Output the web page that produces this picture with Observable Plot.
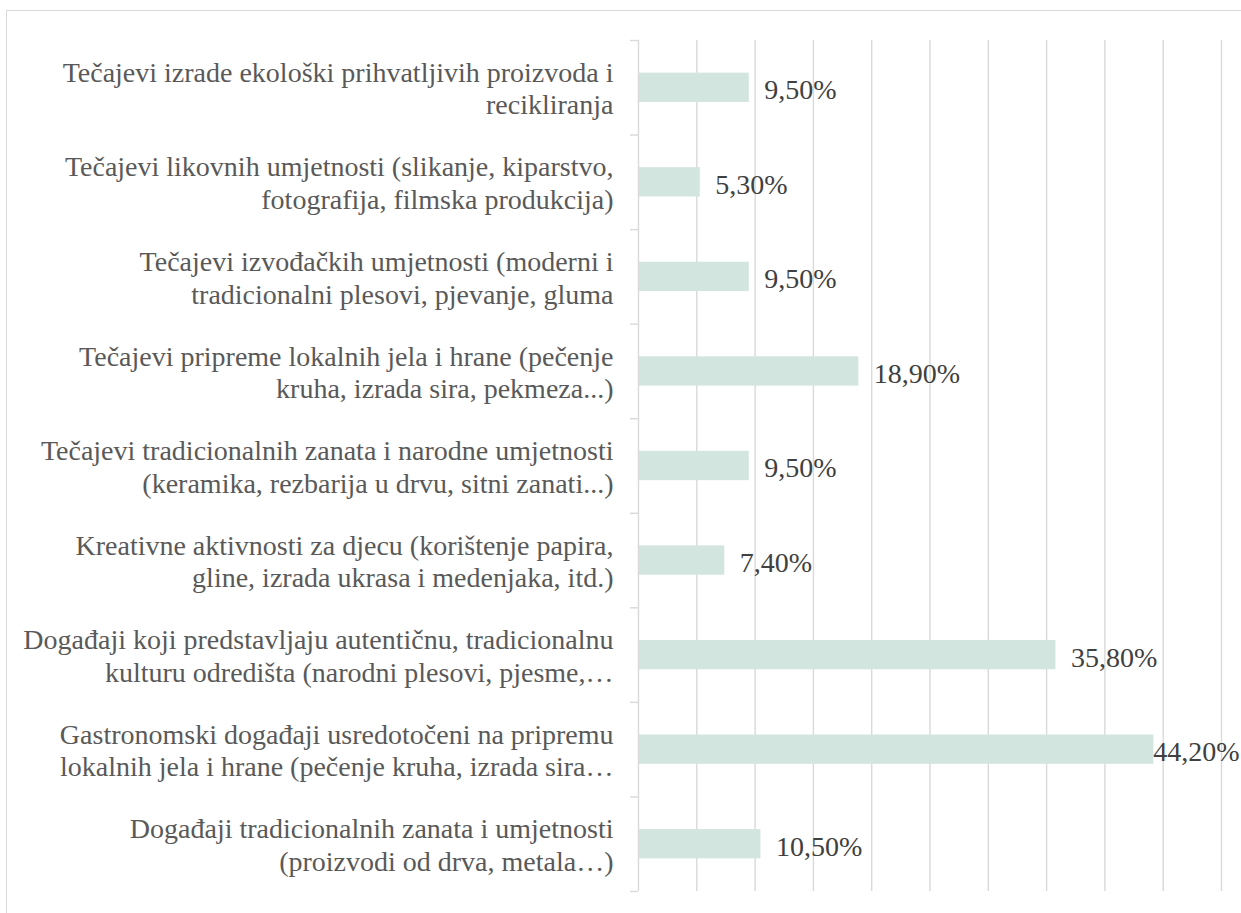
<!DOCTYPE html>
<html><head><meta charset="utf-8">
<script src="https://cdn.jsdelivr.net/npm/d3@7"></script>
<script src="https://cdn.jsdelivr.net/npm/@observablehq/plot@0.6"></script>
<style>
html,body{margin:0;padding:0;background:#fff;overflow:hidden;}
#wrap{position:relative;width:1241px;height:913px;overflow:hidden;}
#border{position:absolute;left:6px;top:10px;width:1300px;height:1000px;border:1.5px solid #d9d9d9;box-sizing:border-box;}
#chart{position:absolute;left:0;top:0;}
#chart svg, #chart svg text, #chart svg tspan {font-family: "Liberation Serif", "Times New Roman", Tinos, serif !important;}
</style></head><body>
<div id="wrap"><div id="border"></div><div id="chart"></div></div>
<script>
const categories = [
  "Tečajevi izrade ekološki prihvatljivih proizvoda i\nrecikliranja",
  "Tečajevi likovnih umjetnosti (slikanje, kiparstvo,\nfotografija, filmska produkcija)",
  "Tečajevi izvođačkih umjetnosti (moderni i\ntradicionalni plesovi, pjevanje, gluma",
  "Tečajevi pripreme lokalnih jela i hrane (pečenje\nkruha, izrada sira, pekmeza...)",
  "Tečajevi tradicionalnih zanata i narodne umjetnosti\n(keramika, rezbarija u drvu, sitni zanati...)",
  "Kreativne aktivnosti za djecu (korištenje papira,\ngline, izrada ukrasa i medenjaka, itd.)",
  "Događaji koji predstavljaju autentičnu, tradicionalnu\nkulturu odredišta (narodni plesovi, pjesme,…",
  "Gastronomski događaji usredotočeni na pripremu\nlokalnih jela i hrane (pečenje kruha, izrada sira…",
  "Događaji tradicionalnih zanata i umjetnosti\n(proizvodi od drva, metala…)"
];
const values = [9.5, 5.3, 9.5, 18.9, 9.5, 7.4, 35.8, 44.2, 10.5];
const valueLabels = ["9,50%", "5,30%", "9,50%", "18,90%", "9,50%", "7,40%", "35,80%", "44,20%", "10,50%"];
const gridTicks = [5, 10, 15, 20, 25, 30, 35, 40, 45, 50];

const rows = categories.map((c, i) => ({cat: c, value: values[i], label: valueLabels[i]}));

const W = 1241, H = 913, mT = 40, mB = 22, mL = 638, mR = 20;
const step = (H - mT - mB) / categories.length;
const xMax = 50;
const pxPerUnit = (W - mL - mR) / xMax;
const tickLen = 8 / pxPerUnit;
const fits = d => d.value < 42;
const FONT = "Liberation Serif";

const chart = Plot.plot({
  width: W, height: H,
  marginTop: mT, marginBottom: mB, marginLeft: mL, marginRight: mR,
  style: {fontFamily: FONT, background: "transparent", overflow: "visible"},
  x: {domain: [0, xMax], axis: null},
  y: {domain: categories, axis: null, paddingInner: 0.69, paddingOuter: 0.345, round: false},
  marks: [
    Plot.ruleX(gridTicks, {stroke: "#d9d9d9", strokeWidth: 1.4}),
    Plot.barX(rows, {x: "value", y: "cat", fill: "#d3e5df"}),
    Plot.ruleX([0], {stroke: "#d9d9d9", strokeWidth: 1.4}),
    Plot.ruleY(categories, {y: d => d, x1: -tickLen, x2: 0, dy: -step / 2, stroke: "#d9d9d9", strokeWidth: 1.4, clip: false}),
    Plot.ruleY(categories.slice(-1), {y: d => d, x1: -tickLen, x2: 0, dy: step / 2, stroke: "#d9d9d9", strokeWidth: 1.4, clip: false}),
    Plot.text(rows, {x: 0, y: "cat", text: "cat", textAnchor: "end", dx: -25, lineHeight: 1.16, fontSize: 28, fontFamily: FONT, fill: "#595959"}),
    Plot.text(rows.filter(fits), {x: "value", y: "cat", text: "label", textAnchor: "start", dx: 15, dy: 2.5, fontSize: 28, fontFamily: FONT, fill: "#404040"}),
    Plot.text(rows.filter(d => !fits(d)), {x: xMax, y: "cat", text: "label", textAnchor: "end", dx: 18, dy: 2.5, fontSize: 28, fontFamily: FONT, fill: "#404040"})
  ]
});
document.getElementById("chart").appendChild(chart);
</script>
</body></html>
